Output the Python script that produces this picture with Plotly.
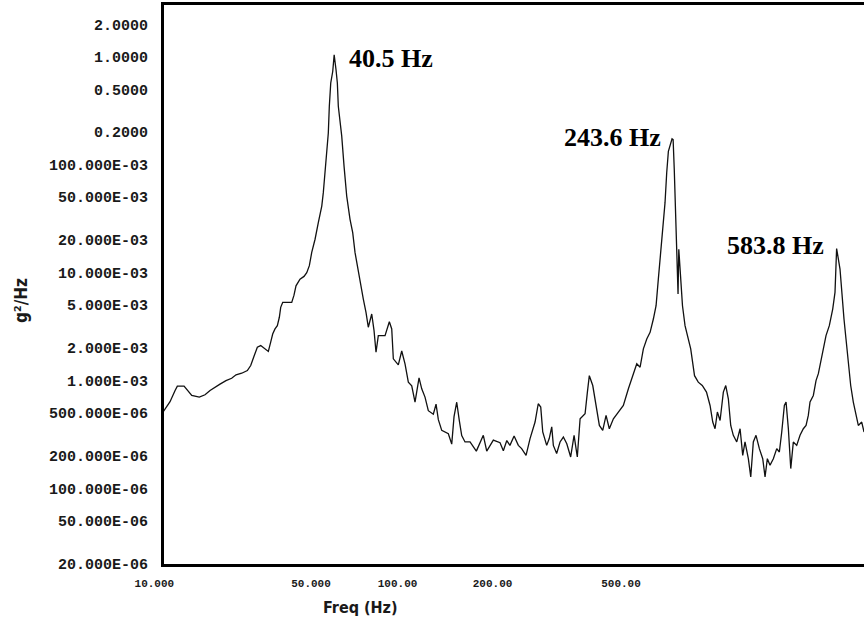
import numpy as np
import plotly.graph_objects as go

# Acceleration PSD of the test article, one point per analyser line (Hz, g^2/Hz)
FREQ_HZ = [
    16.32, 16.94, 17.40, 17.61, 18.25, 18.51, 19.01, 19.79, 20.40, 20.95,
    21.51, 22.09, 22.80, 23.50, 24.05, 24.79, 25.54, 26.00, 26.46, 26.93,
    27.42, 28.05, 28.55, 28.91, 29.22, 29.58, 29.95, 30.27, 30.49, 30.82,
    32.33, 32.72, 33.07, 33.78, 34.51, 35.01, 35.50, 35.95, 36.59, 37.23,
    37.92, 38.23, 38.59, 38.94, 39.26, 39.47, 39.77, 40.19, 40.40, 40.5,
    40.90, 41.19, 41.40, 41.78, 42.16, 42.68, 43.29, 44.06, 44.69, 45.24,
    46.04, 46.63, 47.28, 47.96, 48.55, 49.44, 50.05, 50.58, 51.20, 53.06,
    54.29, 54.98, 55.45, 56.94, 57.98, 59.00, 60.05, 61.14, 62.22, 63.56,
    64.48, 65.61, 66.77, 68.57, 69.57, 70.42, 71.70, 74.26, 75.61, 76.54,
    77.64, 78.72, 79.73, 81.14, 83.33, 86.16, 89.42, 91.06, 94.31, 97.72,
    99.45, 101.3, 103.0, 105.3, 107.7, 109.6, 112.2, 114.6, 117.7, 119.7,
    121.3, 122.6, 125.2, 126.9, 128.6, 129.7, 132.0, 134.4, 136.8, 139.3,
    142.2, 144.8, 147.3, 149.5, 153.5, 155.4, 157.0, 159.9, 163.3, 165.6,
    168.6, 171.6, 174.6, 178.4, 183.2, 188.1, 193.2, 197.7, 202.0, 205.6,
    209.2, 213.0, 216.8, 220.6, 223.8, 226.5, 228.6, 231.9, 234.7, 236.8,
    238.9, 243.6, 245.0, 246.5, 247.5, 249.0, 250.5, 251.5, 252.5, 254.5,
    257.5, 261.0, 265.5, 269.0, 274.5, 280.0, 286.0, 292.5, 298.1, 302.4,
    306.1, 309.9, 314.4, 319.9, 324.0, 328.5, 332.7, 337.3, 343.5, 349.6,
    354.6, 358.9, 365.3, 370.0, 375.1, 380.5, 387.3, 394.3, 399.2, 404.1,
    409.9, 417.2, 424.8, 430.7, 436.2, 442.3, 446.3, 451.8, 457.6, 463.9,
    472.3, 480.7, 489.2, 496.3, 502.3, 506.9, 515.9, 523.3, 529.8, 536.5,
    544.0, 551.8, 561.6, 571.8, 578.8, 581.5, 583.8, 594.4, 600.7, 607.1,
    613.6, 621.1, 629.1, 637.9, 647.1, 655.1, 667.0, 675.3,
]

PSD_G2_HZ = [
    5.11e-4, 6.37e-4, 8.09e-4, 8.89e-4, 8.89e-4, 8.27e-4, 7.28e-4, 7.03e-4, 7.39e-4, 8.09e-4,
    8.70e-4, 9.27e-4, 1.00e-3, 1.05e-3, 1.13e-3, 1.17e-3, 1.24e-3, 1.38e-3, 1.68e-3, 2.04e-3,
    2.11e-3, 1.97e-3, 1.86e-3, 2.27e-3, 2.70e-3, 3.01e-3, 3.23e-3, 3.86e-3, 4.77e-3, 5.31e-3,
    5.31e-3, 6.19e-3, 7.55e-3, 8.71e-3, 9.23e-3, 1.00e-2, 1.16e-2, 1.54e-2, 2.04e-2, 2.91e-2,
    4.14e-2, 5.51e-2, 8.42e-2, 0.120, 0.197, 0.348, 0.572, 0.731, 1.006, 1.043,
    0.759, 0.572, 0.348, 0.262, 0.184, 0.0970, 0.0512, 0.0312, 0.0235, 0.0154,
    0.0100, 7.55e-3, 5.69e-3, 4.29e-3, 3.12e-3, 4.14e-3, 2.90e-3, 1.83e-3, 2.61e-3, 2.61e-3,
    3.51e-3, 3.01e-3, 1.59e-3, 1.40e-3, 1.88e-3, 1.43e-3, 9.67e-4, 8.94e-4, 6.33e-4, 1.06e-3,
    8.39e-4, 7.03e-4, 5.26e-4, 4.88e-4, 6.04e-4, 4.34e-4, 3.46e-4, 3.22e-4, 2.58e-4, 4.63e-4,
    6.30e-4, 4.25e-4, 3.09e-4, 2.70e-4, 2.70e-4, 2.22e-4, 3.11e-4, 2.22e-4, 2.81e-4, 2.66e-4,
    2.24e-4, 2.78e-4, 2.51e-4, 3.07e-4, 2.51e-4, 2.34e-4, 2.03e-4, 2.90e-4, 4.13e-4, 6.10e-4,
    5.68e-4, 3.34e-4, 2.51e-4, 2.90e-4, 3.72e-4, 2.51e-4, 2.11e-4, 2.70e-4, 3.00e-4, 2.60e-4,
    1.96e-4, 3.11e-4, 1.96e-4, 4.43e-4, 4.93e-4, 7.82e-4, 1.11e-3, 9.00e-4, 5.48e-4, 3.84e-4,
    3.46e-4, 4.76e-4, 3.58e-4, 4.43e-4, 5.11e-4, 5.88e-4, 8.39e-4, 1.11e-3, 1.43e-3, 1.33e-3,
    1.97e-3, 2.43e-3, 2.80e-3, 3.72e-3, 4.94e-3, 8.71e-3, 1.33e-2, 2.35e-2, 4.45e-2, 8.42e-2,
    0.133, 0.1737, 0.171, 0.0904, 0.0551, 0.0252, 8.71e-3, 6.33e-3, 1.65e-2, 9.34e-3,
    4.94e-3, 3.23e-3, 2.43e-3, 1.97e-3, 1.11e-3, 9.67e-4, 9.00e-4, 7.82e-4, 5.88e-4, 4.13e-4,
    3.58e-4, 5.11e-4, 4.27e-4, 7.82e-4, 9.00e-4, 6.78e-4, 3.84e-4, 3.11e-4, 2.70e-4, 3.58e-4,
    2.03e-4, 2.70e-4, 1.89e-4, 1.28e-4, 2.70e-4, 3.11e-4, 2.34e-4, 1.89e-4, 1.28e-4, 1.89e-4,
    1.64e-4, 1.89e-4, 2.34e-4, 2.18e-4, 3.34e-4, 5.88e-4, 6.33e-4, 3.58e-4, 1.53e-4, 2.70e-4,
    2.51e-4, 3.11e-4, 3.58e-4, 3.84e-4, 4.76e-4, 6.33e-4, 7.28e-4, 1.00e-3, 1.16e-3, 1.48e-3,
    1.83e-3, 2.61e-3, 3.23e-3, 4.60e-3, 6.57e-3, 1.00e-2, 1.673e-2, 1.08e-2, 6.10e-3, 3.72e-3,
    2.43e-3, 1.48e-3, 9.00e-4, 6.33e-4, 4.76e-4, 3.84e-4, 4.13e-4, 3.34e-4,
]

# Resonance peaks called out on the plot
PEAK_FREQ_HZ = [40.5, 243.6, 583.8]
PEAK_PSD = [1.043, 0.1737, 0.01673]

# Amplitude scale as printed by the analyser
Y_TICK_VALUES = [2, 1, 0.5, 0.2, 0.1, 0.05, 0.02, 0.01, 0.005, 0.002, 0.001,
                 5e-4, 2e-4, 1e-4, 5e-5, 2e-5]
Y_TICK_TEXT = ["2.0000", "1.0000", "0.5000", "0.2000", "100.000E-03", "50.000E-03",
               "20.000E-03", "10.000E-03", "5.000E-03", "2.000E-03", "1.000E-03",
               "500.000E-06", "200.000E-06", "100.000E-06", "50.000E-06", "20.000E-06"]

# Frequency scale labels; the analyser prints them at fixed slots along the axis
X_TICK_TEXT = ["10.000", "50.000", "100.00", "200.00", "500.00"]
X_TICK_SLOTS = [0.0005, 0.2243, 0.3479, 0.4836, 0.6671]

X_RANGE = [1.2150, 2.8294]           # log10(Hz)
Y_RANGE = [np.log10(2e-5) - 0.0005, 0.480]  # log10(g^2/Hz)

x_tick_vals = [10 ** (X_RANGE[0] + s * (X_RANGE[1] - X_RANGE[0])) for s in X_TICK_SLOTS]

fig = go.Figure()
fig.add_trace(go.Scatter(
    x=FREQ_HZ, y=PSD_G2_HZ, mode="lines",
    line=dict(color="#111111", width=1.3),
    showlegend=False, hoverinfo="skip",
))

mono = "Liberation Mono, Courier New, monospace"
narrow = "Liberation Sans Narrow, Arial Narrow, DejaVu Sans Condensed, Liberation Sans, sans-serif"
serif = "Liberation Serif, Times New Roman, serif"

fig.update_xaxes(
    type="log", range=X_RANGE,
    showline=True, linecolor="#000000", linewidth=2.5, mirror=True,
    showgrid=False, zeroline=False, ticks="",
    tickmode="array", tickvals=x_tick_vals, ticktext=X_TICK_TEXT,
    ticklabelshift=-10, ticklabelstandoff=7,
    tickfont=dict(family=mono, size=11, color="#1a1a1a", weight="bold"),
)
fig.update_yaxes(
    type="log", range=Y_RANGE,
    showline=True, linecolor="#000000", linewidth=3, mirror=False,
    showgrid=False, zeroline=False, ticks="",
    tickmode="array", tickvals=Y_TICK_VALUES, ticktext=Y_TICK_TEXT,
    ticklabelstandoff=10,
    tickfont=dict(family=mono, size=15, color="#1a1a1a", weight="bold"),
)

annotations = [
    dict(text="Freq (Hz)", xref="paper", yref="paper", x=0.28, y=-0.077,
         xanchor="center", yanchor="middle", showarrow=False,
         font=dict(family=narrow, size=16, color="#1a1a1a", weight="bold")),
    dict(text="g²/Hz", xref="paper", yref="paper", x=-0.2043, y=0.4723,
         xanchor="center", yanchor="middle", showarrow=False, textangle=-90,
         font=dict(family=narrow, size=17, color="#1a1a1a", weight="bold")),
]

# Peak call-outs: placement of each label relative to its peak
peak_label_style = [
    dict(xanchor="left", xshift=13, yshift=-4),
    dict(xanchor="right", xshift=-9, yshift=1),
    dict(xanchor="right", xshift=-11, yshift=3),
]
for f, p, style in zip(PEAK_FREQ_HZ, PEAK_PSD, peak_label_style):
    annotations.append(dict(
        text=f"{f:.1f} Hz", xref="x", yref="y",
        x=np.log10(f), y=np.log10(p), yanchor="middle", showarrow=False,
        font=dict(family=serif, size=26, color="#000000", weight="bold"),
        **style,
    ))

fig.update_layout(
    width=864, height=624,
    margin=dict(l=164, r=0, t=5, b=60),
    paper_bgcolor="#ffffff", plot_bgcolor="#ffffff",
    annotations=annotations,
)

fig.write_html("out.html")
